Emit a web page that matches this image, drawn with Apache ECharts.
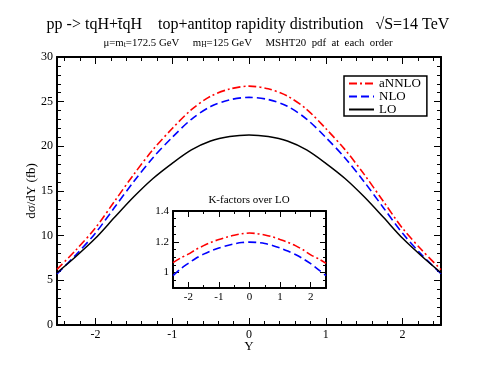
<!DOCTYPE html>
<html style="height: 100%">
<head>
<meta charset="utf-8">
<script src="https://cdn.jsdelivr.net/npm/echarts@6/dist/echarts.min.js"></script>
</head>
<body style="height: 100%; margin: 0; background: #fff">
<div id="container" style="width: 496px; height: 383px"></div>
<script type="text/javascript">

// rapidity points
var rapidity = [-2.5, -2.25, -2, -1.75, -1.5, -1.25, -1, -0.75, -0.5, -0.25, 0,
                0.25, 0.5, 0.75, 1, 1.25, 1.5, 1.75, 2, 2.25, 2.5];

// d sigma / dY (fb)
var sigmaLO    = [5.85, 7.7, 9.7, 12.05, 14.35, 16.4, 18.1, 19.6, 20.6, 21.1, 21.27,
                  21.1, 20.6, 19.6, 18.1, 16.4, 14.35, 12.05, 9.7, 7.7, 5.85];
var sigmaNLO   = [5.73, 7.89, 10.28, 13.17, 16.07, 18.73, 21.0, 23.03, 24.45, 25.21, 25.48,
                  25.24, 24.49, 23.05, 21.0, 18.7, 16.03, 13.13, 10.26, 7.85, 5.73];
var sigmaANNLO = [6.23, 8.43, 10.86, 13.86, 16.86, 19.63, 21.99, 24.11, 25.61, 26.42, 26.74,
                  26.44, 25.63, 24.15, 21.99, 19.63, 16.86, 13.83, 10.82, 8.39, 6.2];

// K-factors over LO
var kNLO   = [0.98, 1.025, 1.06, 1.093, 1.12, 1.142, 1.16, 1.175, 1.187, 1.195, 1.198,
              1.196, 1.189, 1.176, 1.16, 1.14, 1.117, 1.09, 1.058, 1.02, 0.98];
var kANNLO = [1.065, 1.095, 1.12, 1.15, 1.175, 1.197, 1.215, 1.23, 1.243, 1.252, 1.257,
              1.253, 1.244, 1.232, 1.215, 1.197, 1.175, 1.148, 1.115, 1.09, 1.06];

var mainXTicks = [-2, -1, 0, 1, 2];
var mainYTicks = [0, 5, 10, 15, 20, 25, 30];
var insetXTicks = [-2, -1, 0, 1, 2];
var insetYTicks = [1, 1.2, 1.4];

var serif = 'Liberation Serif';

function steps(from, to, step) {
    var out = [], v;
    for (v = from; v <= to + 1e-9; v += step) {
        out.push(Math.round(v * 1000) / 1000);
    }
    return out;
}

function pairs(xs, ys) {
    return xs.map(function (x, i) { return [x, ys[i]]; });
}

// one axis that only draws ticks (and optionally line / labels)
function tickAxis(grid, pos, min, max, ticks, len, opts) {
    opts = opts || {};
    return {
        type: 'value',
        gridIndex: grid,
        position: pos,
        min: min,
        max: max,
        axisLine: {show: !!opts.line, onZero: false, lineStyle: {color: '#000', width: 2}},
        axisTick: {show: true, inside: true, length: len, customValues: ticks,
                   lineStyle: {color: '#000', width: 1}},
        axisLabel: opts.labels ? {
            show: true, customValues: ticks, color: '#000', fontFamily: serif,
            fontSize: opts.fontSize, margin: opts.margin
        } : {show: false},
        splitLine: {show: false},
        name: opts.name,
        nameLocation: 'middle',
        nameGap: opts.nameGap,
        nameMoveOverlap: false,
        nameTextStyle: {color: '#000', fontFamily: serif, fontSize: 13}
    };
}

var mainXMinor = steps(-2.4, 2.4, 0.2);
var insetXMinor = steps(-2.5, 2.5, 0.5);
var insetYMinor = steps(0.9, 1.4, 0.05);

var xAxes = [
    tickAxis(0, 'bottom', -2.5, 2.5, mainXTicks, 7, {line: true, labels: true, fontSize: 12, margin: 4, name: 'Y', nameGap: 15}),
    tickAxis(0, 'bottom', -2.5, 2.5, mainXMinor, 4),
    tickAxis(0, 'top', -2.5, 2.5, mainXTicks, 7, {line: true}),
    tickAxis(0, 'top', -2.5, 2.5, mainXMinor, 4),
    tickAxis(1, 'bottom', -2.5, 2.5, insetXTicks, 6, {line: true, labels: true, fontSize: 11, margin: 4}),
    tickAxis(1, 'bottom', -2.5, 2.5, insetXMinor, 3),
    tickAxis(1, 'top', -2.5, 2.5, insetXTicks, 6, {line: true}),
    tickAxis(1, 'top', -2.5, 2.5, insetXMinor, 3)
];

var yAxes = [
    tickAxis(0, 'left', 0, 30, mainYTicks, 7, {line: true, labels: true, fontSize: 12, margin: 4, name: 'd\u03c3/dY (fb)', nameGap: 19}),
    tickAxis(0, 'left', 0, 30, steps(0, 30, 1), 4),
    tickAxis(0, 'right', 0, 30, mainYTicks, 7, {line: true}),
    tickAxis(0, 'right', 0, 30, steps(0, 30, 1), 4),
    tickAxis(1, 'left', 0.9, 1.4, insetYTicks, 6, {line: true, labels: true, fontSize: 11, margin: 4}),
    tickAxis(1, 'left', 0.9, 1.4, insetYMinor, 3),
    tickAxis(1, 'right', 0.9, 1.4, insetYTicks, 6, {line: true}),
    tickAxis(1, 'right', 0.9, 1.4, insetYMinor, 3)
];

var redStyle = {color: '#ff0000', width: 1.6, type: [8, 3, 2, 3]};
var blueStyle = {color: '#0000ff', width: 1.6, type: [8, 4]};
var blackStyle = {color: '#000000', width: 1.5, type: 'solid'};

function line(name, data, xi, yi, style) {
    return {
        name: name, type: 'line', xAxisIndex: xi, yAxisIndex: yi,
        data: data, smooth: 0.3, symbol: 'none', lineStyle: style,
        itemStyle: {color: style.color}, silent: true, animation: false
    };
}

var option = {
    animation: false,
    backgroundColor: '#fff',
    grid: [
        {left: 57, top: 57, width: 384, height: 268},
        {left: 173, top: 211, width: 153, height: 77, show: true, backgroundColor: '#fff', borderWidth: 0}
    ],
    xAxis: xAxes,
    yAxis: yAxes,
    legend: {
        data: ['aNNLO', 'NLO', 'LO'],
        orient: 'vertical',
        left: 344,
        top: 76,
        itemWidth: 25,
        itemHeight: 10,
        itemGap: 0,
        padding: [1, 6, 0, 4],
        borderColor: '#000',
        borderWidth: 1.5,
        borderRadius: 0,
        backgroundColor: '#fff',
        itemStyle: {opacity: 0},
        textStyle: {color: '#000', fontFamily: serif, fontSize: 13, lineHeight: 13}
    },
    graphic: [
        {type: 'text', x: 248, y: 25, style: {
            text: 'pp -> tqH+t\u0304qH    top+antitop rapidity distribution   \u221aS=14 TeV',
            font: '16px "Liberation Serif"', fill: '#000', textAlign: 'center', textVerticalAlign: 'middle'}},
        {type: 'text', x: 248, y: 43, style: {
            text: '\u03bc=m{s|t}=172.5 GeV     m{s|H}=125 GeV     MSHT20  pdf  at  each  order',
            font: '10.8px "Liberation Serif"', fill: '#000', textAlign: 'center', textVerticalAlign: 'middle',
            rich: {s: {fontSize: 7.5, fontFamily: serif, padding: [5, 0, 0, 0]}}}},
        {type: 'text', x: 249, y: 200, style: {
            text: 'K-factors over LO',
            font: '11px "Liberation Serif"', fill: '#000', textAlign: 'center', textVerticalAlign: 'middle'}}
    ],
    series: [
        line('aNNLO', pairs(rapidity, sigmaANNLO), 0, 0, redStyle),
        line('NLO', pairs(rapidity, sigmaNLO), 0, 0, blueStyle),
        line('LO', pairs(rapidity, sigmaLO), 0, 0, blackStyle),
        line('K aNNLO', pairs(rapidity, kANNLO), 4, 4, redStyle),
        line('K NLO', pairs(rapidity, kNLO), 4, 4, blueStyle)
    ]
};

var myChart = echarts.init(document.getElementById('container'));
myChart.setOption(option, true);
</script>
</body>
</html>
